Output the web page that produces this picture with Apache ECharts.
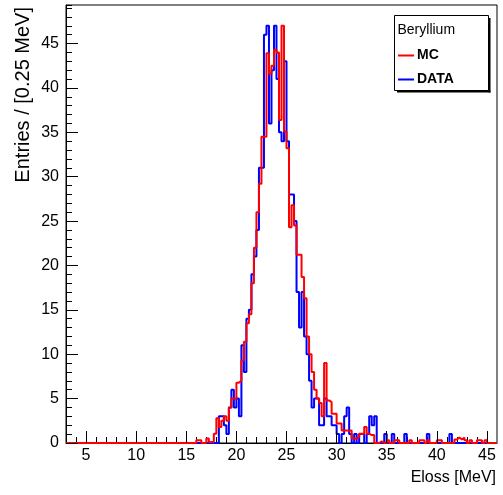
<!DOCTYPE html>
<html>
<head>
<meta charset="utf-8">
<script src="https://cdn.jsdelivr.net/npm/echarts@6/dist/echarts.min.js"></script>
<style>html,body{margin:0;padding:0;background:#fff}#c{width:503px;height:495px}</style>
</head>
<body>
<div id="c"></div>
<script>
// Histogram definition
const binStart = 3.0;
const binWidth = 0.25;
const xMin = 3, xMax = 46, yMax = 49.35;
const xTickLabels = [5, 10, 15, 20, 25, 30, 35, 40, 45];
const yTickLabels = [0, 5, 10, 15, 20, 25, 30, 35, 40, 45];
const xTitle = 'Eloss [MeV]';
const yTitle = 'Entries / [0.25 MeV]';
const legendTitle = 'Beryllium';
const seriesNames = ['MC', 'DATA'];

// counts per bin, starting at 16.0 MeV (bins below are empty); 8 bins (2 MeV) per row
const firstFilledBin = 16.0;
const mcCounts = [
  0.3, 0.3, 0, 0, 0.5, 0.1, 0.1, 1.05,
  2.8, 1.8, 2.5, 3, 2.5, 4, 5, 5,
  6.8, 7, 9.3, 11.4, 13.5, 14.5, 18, 22,
  26, 29.2, 34.5, 34.5, 43.9, 41.6, 42.5, 44.3,
  44, 36.4, 47, 35.1, 33.2, 24.3, 26.8, 24.5,
  21.2, 21.2, 18.7, 16.3, 12, 10, 8, 6,
  5, 4.5, 3, 9, 4.8, 4.6, 3.3, 3.3,
  2.2, 2.2, 1.4, 1.4, 1.4, 1.4, 0.5, 0.5,
  0.7, 1.05, 1.05, 1.8, 1.05, 0.9, 0.9, 0,
  0, 0.2, 0, 0, 0.3, 0, 0, 0.3,
  0.3, 0, 0, 0, 0, 0.3, 0, 0,
  0, 0.3, 0.3, 0, 0.3, 0, 0, 0,
  0.3, 0.3, 0, 0, 0, 0, 0, 0.4,
  0.6, 0.4, 0.6, 0.3, 0, 0.3, 0, 0,
  0.3, 0.3, 0, 0.3, 0, 0, 0, 0
];
const dataCounts = [
  0, 0, 0, 0, 0, 0, 0, 0,
  0, 3, 3, 2, 1, 4, 6, 4,
  5, 3, 11, 8, 14, 15, 19, 21,
  24, 31, 31, 46, 47, 36, 42, 47,
  41, 35, 34, 43, 34, 28, 28, 25,
  17, 13, 17, 12, 10, 7, 4, 5,
  5, 2, 2, 5, 3, 3, 2, 2,
  1, 0, 1, 3, 4, 1, 0, 1,
  0, 1, 1, 0, 1, 3, 2, 3,
  0, 0, 0, 1, 0, 0, 1, 0,
  0, 0, 0, 1, 0, 0, 0, 0,
  0, 0, 0, 0, 1, 0, 0, 0,
  0, 0, 0, 0, 0, 1, 0, 0,
  0, 0, 0, 0, 0, 0, 0, 0,
  0, 0, 0, 0, 0, 0, 0, 0
];

const nBins = Math.round((xMax - xMin) / binWidth);
function fullBins(counts) {
  const out = new Array(nBins).fill(0);
  const off = Math.round((firstFilledBin - binStart) / binWidth);
  counts.forEach((v, i) => { if (off + i < nBins) out[off + i] = v; });
  return out;
}
function stepData(counts) {
  const full = fullBins(counts);
  const pts = full.map((v, i) => [binStart + i * binWidth, v]);
  pts.push([binStart + nBins * binWidth, full[nBins - 1]]);
  return pts;
}

const chart = echarts.init(document.getElementById('c'), null, {renderer: 'canvas'});
const FONT = 'Liberation Sans, Arial, Helvetica, sans-serif';
const majTickLen = 1.35; // in y units (~12px)
const majTickLenX = 1.2; // in x units (~12px)

const xMajorTicks = xTickLabels.map(v => [{coord: [v, 0]}, {coord: [v, majTickLen]}]);
const yMajorTicks = yTickLabels.map(v => [{coord: [xMin, v]}, {coord: [xMin + majTickLenX, v]}]);

chart.setOption({
  animation: false,
  backgroundColor: '#fff',
  grid: {left: 66, right: 6, top: 5, bottom: 52, show: true, borderColor: '#000', borderWidth: 1,
    backgroundColor: 'transparent', outerBoundsMode: 'none', containLabel: false},
  xAxis: {
    type: 'value', min: xMin, max: xMax, interval: 1,
    axisLine: {show: true, onZero: false, lineStyle: {color: '#000', width: 1}},
    axisTick: {show: true, inside: true, length: 6, lineStyle: {color: '#000'}},
    axisLabel: {show: true, color: '#000', fontFamily: FONT, fontSize: 16, margin: 5,
      formatter: v => (xTickLabels.indexOf(v) >= 0 ? String(v) : ''), showMinLabel: false, showMaxLabel: false},
    splitLine: {show: false}
  },
  yAxis: {
    type: 'value', min: 0, max: yMax, interval: 1,
    axisLine: {show: true, lineStyle: {color: '#000', width: 1}},
    axisTick: {show: true, inside: true, length: 6, lineStyle: {color: '#000'}},
    axisLabel: {show: true, color: '#000', fontFamily: FONT, fontSize: 16, margin: 7,
      formatter: v => (yTickLabels.indexOf(v) >= 0 ? String(v) : '')},
    splitLine: {show: false}
  },
  series: [
    {
      name: seriesNames[1], type: 'line', step: 'end', data: stepData(dataCounts),
      showSymbol: false, clip: false, z: 2,
      lineStyle: {color: '#0000ff', width: 2}, itemStyle: {color: '#0000ff'},
      markLine: {silent: true, symbol: 'none', label: {show: false}, animation: false,
        lineStyle: {color: '#000', width: 1, type: 'solid'}, data: xMajorTicks.concat(yMajorTicks)}
    },
    {
      name: seriesNames[0], type: 'line', step: 'end', data: stepData(mcCounts),
      showSymbol: false, clip: false, z: 3,
      lineStyle: {color: '#ff0000', width: 2}, itemStyle: {color: '#ff0000'}
    }
  ],
  graphic: [
    {type: 'text', x: 496, y: 470, style: {text: xTitle, font: '16px ' + FONT, fill: '#000', align: 'right', verticalAlign: 'top'}, z: 11},
    {type: 'text', x: 23, y: 7, rotation: Math.PI / 2, style: {text: yTitle, font: '20px ' + FONT, fill: '#000', align: 'right', verticalAlign: 'middle'}, z: 11},
    {type: 'rect', shape: {x: 394.5, y: 15.5, width: 94, height: 75}, style: {fill: '#fff', stroke: '#000', lineWidth: 1}, z: 10},
    {type: 'rect', shape: {x: 488.5, y: 18, width: 2, height: 74.5}, style: {fill: '#000'}, z: 10},
    {type: 'rect', shape: {x: 397, y: 90.5, width: 93.5, height: 2}, style: {fill: '#000'}, z: 10},
    {type: 'text', x: 397.5, y: 30, style: {text: legendTitle, font: '14px ' + FONT, fill: '#000', verticalAlign: 'middle'}, z: 11},
    {type: 'line', shape: {x1: 398, y1: 55.5, x2: 414, y2: 55.5}, style: {stroke: '#ff0000', lineWidth: 2}, z: 11},
    {type: 'text', x: 417, y: 55.5, style: {text: seriesNames[0], font: 'bold 14px ' + FONT, fill: '#000', verticalAlign: 'middle'}, z: 11},
    {type: 'line', shape: {x1: 398, y1: 79.5, x2: 414, y2: 79.5}, style: {stroke: '#0000ff', lineWidth: 2}, z: 11},
    {type: 'text', x: 417, y: 79.5, style: {text: seriesNames[1], font: 'bold 14px ' + FONT, fill: '#000', verticalAlign: 'middle'}, z: 11}
  ]
});
</script>
</body>
</html>
